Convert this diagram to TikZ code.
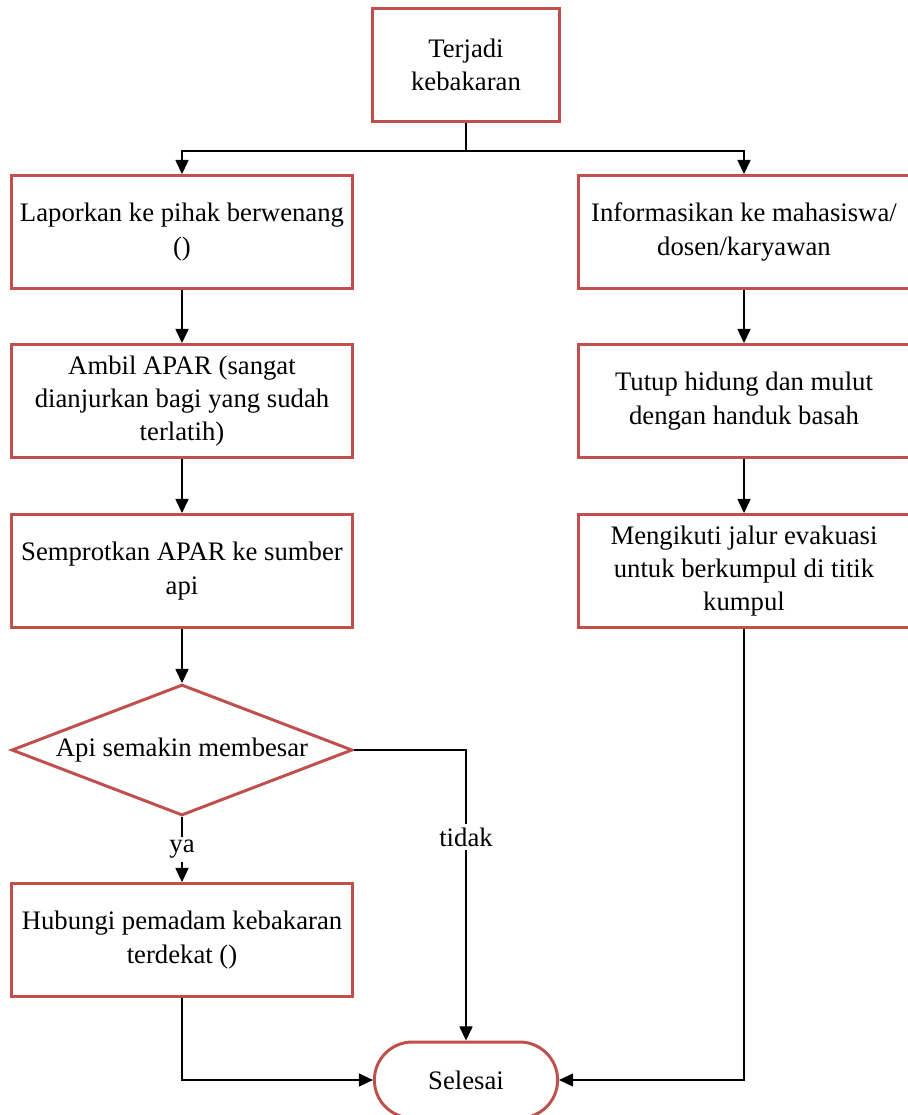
\documentclass[tikz,border=0pt]{standalone}
\usepackage{fontspec}
\setmainfont{Liberation Serif}
\usetikzlibrary{arrows.meta,positioning,calc,shapes.geometric,shapes.misc}
\definecolor{boxred}{RGB}{192,80,77}
\tikzset{
  stepbox/.style={draw=boxred,line width=1.7pt,fill=white,align=center,
    minimum width=6.82cm,minimum height=2.26cm,inner sep=2pt},
  flow/.style={line width=0.6pt,-{Triangle[length=8pt,width=7.5pt]}},
  plain/.style={line width=0.6pt},
  lbl/.style={fill=white,inner sep=2pt}
}
\begin{document}
\begin{tikzpicture}[x=0.02cm,y=-0.02cm,font=\fontsize{15.2}{19}\selectfont]
  \useasboundingbox (0,0) rectangle (907,1115);
  % kotak proses
  \node[stepbox,minimum width=3.76cm] (mulai) at (466,65) {Terjadi\\kebakaran};
  \node[stepbox] (lapor) at (182,232) {Laporkan ke pihak berwenang\\()};
  \node[stepbox] (apar) at (182,401) {Ambil APAR (sangat\\dianjurkan bagi yang sudah\\terlatih)};
  \node[stepbox] (semprot) at (182,571) {Semprotkan APAR ke sumber\\api};
  \node[draw=boxred,line width=1.7pt,diamond,aspect=2.6,inner sep=0pt,
    minimum width=6.82cm,minimum height=2.62cm] (besar) at (182,750) {Api semakin membesar};
  \node[stepbox] (hubungi) at (182,940) {Hubungi pemadam kebakaran\\terdekat ()};
  \node[stepbox,minimum width=6.64cm] (info) at (744,232) {Informasikan ke mahasiswa/\\dosen/karyawan};
  \node[stepbox,minimum width=6.64cm] (tutup) at (744,401) {Tutup hidung dan mulut\\dengan handuk basah};
  \node[stepbox,minimum width=6.64cm] (jalur) at (744,571) {Mengikuti jalur evakuasi\\untuk berkumpul di titik\\kumpul};
  \node[draw=boxred,line width=1.7pt,rounded rectangle,minimum width=3.9cm,
    minimum height=1.52cm] (selesai) at (466,1080) {Selesai};
  \coordinate (cabang) at (466,151);
  % garis penghubung
  \draw[plain] (mulai) -- (cabang);
  \draw[flow] (cabang) -| (lapor);
  \draw[flow] (cabang) -| (info);
  \draw[flow] (lapor) -- (apar);
  \draw[flow] (apar) -- (semprot);
  \draw[flow] (semprot) -- (besar);
  \draw[flow] (besar) -- node[lbl]{ya} (hubungi);
  \draw[flow] (besar.east) -| node[lbl,pos=0.65]{tidak} (selesai.north);
  \draw[flow] (hubungi.south) |- (selesai.west);
  \draw[flow] (info) -- (tutup);
  \draw[flow] (tutup) -- (jalur);
  \draw[flow] (jalur.south) |- (selesai.east);
\end{tikzpicture}
\end{document}
